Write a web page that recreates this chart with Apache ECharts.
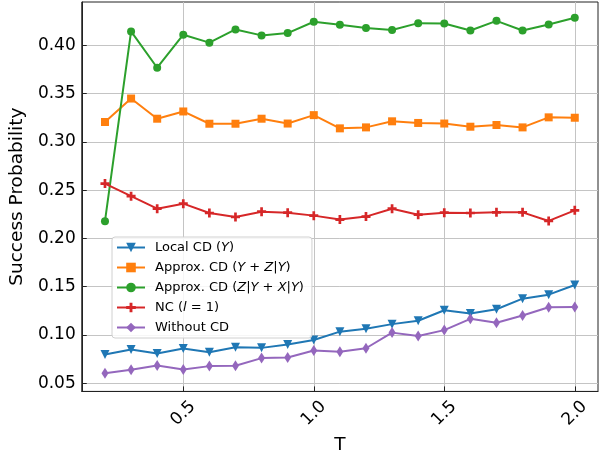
<!DOCTYPE html>
<html>
<head>
<meta charset="utf-8">
<script src="https://cdn.jsdelivr.net/npm/echarts@6/dist/echarts.min.js"></script>
<style>
    html, body {margin: 0; padding: 0; background: #fff;}
    #chart {width: 613px; height: 460px;}
</style>
</head>
<body>
<div id="chart"></div>
<script>
// T 值
var aT = [0.2, 0.3, 0.4, 0.5, 0.6, 0.7, 0.8, 0.9, 1.0, 1.1, 1.2, 1.3, 1.4, 1.5, 1.6, 1.7, 1.8, 1.9, 2.0];

var aLocalCD = [0.0797, 0.0849, 0.0808, 0.0859, 0.0821, 0.0873, 0.0866, 0.0900, 0.0948, 0.1034,
    0.1065, 0.1112, 0.1147, 0.1256, 0.1222, 0.1266, 0.1376, 0.1417, 0.1517];
var aApproxYZ = [0.3206, 0.3449, 0.3240, 0.3315, 0.3188, 0.3188, 0.3240, 0.3190, 0.3277, 0.3140,
    0.3150, 0.3213, 0.3196, 0.3190, 0.3157, 0.3175, 0.3150, 0.3254, 0.3250];
var aApproxZX = [0.2178, 0.4144, 0.3768, 0.4110, 0.4028, 0.4165, 0.4103, 0.4127, 0.4244, 0.4213,
    0.4179, 0.4158, 0.4230, 0.4226, 0.4154, 0.4254, 0.4154, 0.4216, 0.4285];
var aNC = [0.2568, 0.2438, 0.2308, 0.2360, 0.2263, 0.2222, 0.2277, 0.2267, 0.2236, 0.2195,
    0.2226, 0.2308, 0.2246, 0.2267, 0.2263, 0.2270, 0.2270, 0.2181, 0.2291];
var aWithout = [0.0602, 0.0639, 0.0684, 0.0643, 0.0677, 0.0680, 0.0760, 0.0767, 0.0839, 0.0826,
    0.0862, 0.1024, 0.0989, 0.1050, 0.1167, 0.1126, 0.1201, 0.1287, 0.1290];

// 刻度
var aXTicks = [0.5, 1.0, 1.5, 2.0];
var aYTicks = [0.05, 0.10, 0.15, 0.20, 0.25, 0.30, 0.35, 0.40];

var aNames = ['Local CD (Y)', 'Approx. CD (Y + Z|Y)', 'Approx. CD (Z|Y + X|Y)', 'NC (l = 1)', 'Without CD'];
// 图例里的斜体部分
var aRichNames = ['Local CD ({i|Y})', 'Approx. CD ({i|Y} + {i|Z}|{i|Y})', 'Approx. CD ({i|Z}|{i|Y} + {i|X}|{i|Y})',
    'NC ({i|l} = 1)', 'Without CD'];

var sFont = 'DejaVu Sans';

function MakePairs(aY) {
    var aRes = [];
    for (var i = 0; i < aT.length; i++) {
        aRes.push([aT[i], aY[i]]);
    }
    return aRes;
}

function MakeSeries(sName, aY, sColor, sSymbol, vSize, iRotate) {
    return {
        name: sName,
        type: 'line',
        data: MakePairs(aY),
        symbol: sSymbol,
        symbolSize: vSize,
        symbolRotate: iRotate,
        showAllSymbol: true,
        lineStyle: {color: sColor, width: 2},
        itemStyle: {color: sColor, borderWidth: 0},
        emphasis: {disabled: true},
        animation: false
    };
}

var sPlus = 'path://M3.5,0H6.5V3.5H10V6.5H6.5V10H3.5V6.5H0V3.5H3.5Z';

var jOption = {
    backgroundColor: '#fff',
    textStyle: {fontFamily: sFont},
    grid: {left: 81, right: 15, top: 2, bottom: 65, show: true, borderColor: '#222', borderWidth: 1},
    legend: {
        orient: 'vertical',
        left: 112,
        top: 237,
        width: 197,
        data: aNames,
        itemWidth: 28,
        itemHeight: 12,
        itemGap: 7,
        padding: [4, 8, 4, 4],
        backgroundColor: 'rgba(255,255,255,0.85)',
        borderColor: '#d0d0d0',
        borderWidth: 1,
        borderRadius: 3,
        formatter: function (sName) {
            return aRichNames[aNames.indexOf(sName)];
        },
        textStyle: {
            fontFamily: sFont,
            fontSize: 13,
            color: '#000',
            padding: [0, 0, 0, 5],
            rich: {
                i: {fontFamily: sFont, fontSize: 13, fontStyle: 'italic', color: '#000'}
            }
        }
    },
    xAxis: {
        type: 'value',
        min: 0.111,
        max: 2.089,
        name: 'T',
        nameLocation: 'middle',
        nameGap: 40,
        nameTextStyle: {fontFamily: sFont, fontSize: 18.5, color: '#000'},
        axisLine: {show: true, lineStyle: {color: '#222', width: 1}},
        axisTick: {show: true, inside: true, length: 5, lineStyle: {color: '#222'}, customValues: aXTicks},
        axisLabel: {
            customValues: aXTicks,
            rotate: 45,
            align: 'center',
            verticalAlign: 'middle',
            margin: 22,
            fontFamily: sFont,
            fontSize: 17,
            color: '#000',
            formatter: function (v) { return v.toFixed(1); }
        },
        splitLine: {show: true, lineStyle: {color: '#c4c4c4', width: 1}}
    },
    yAxis: {
        type: 'value',
        min: 0.0415,
        max: 0.4449,
        name: 'Success Probability',
        nameLocation: 'middle',
        nameGap: 47,
        nameTextStyle: {fontFamily: sFont, fontSize: 18.5, color: '#000'},
        axisLine: {show: true, lineStyle: {color: '#222', width: 1}},
        axisTick: {show: true, inside: true, length: 5, lineStyle: {color: '#222'}, customValues: aYTicks},
        axisLabel: {
            customValues: aYTicks,
            margin: 6,
            fontFamily: sFont,
            fontSize: 17,
            color: '#000',
            formatter: function (v) { return v.toFixed(2); }
        },
        splitLine: {show: true, lineStyle: {color: '#c4c4c4', width: 1}}
    },
    series: [
        MakeSeries(aNames[0], aLocalCD, '#1f77b4', 'triangle', 9, 180),
        MakeSeries(aNames[1], aApproxYZ, '#ff7f0e', 'rect', 8, 0),
        MakeSeries(aNames[2], aApproxZX, '#2ca02c', 'circle', 8, 0),
        MakeSeries(aNames[3], aNC, '#d62728', sPlus, 9, 0),
        MakeSeries(aNames[4], aWithout, '#9467bd', 'diamond', [7, 11], 0)
    ]
};

var myChart = echarts.init(document.getElementById('chart'), null, {renderer: 'canvas'});
myChart.setOption(jOption);
</script>
</body>
</html>
